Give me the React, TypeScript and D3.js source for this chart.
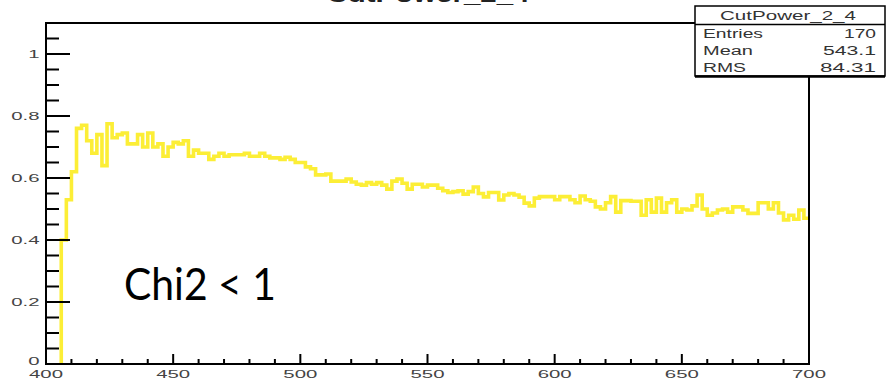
import React from "react";
import * as d3 from "d3";

// ---- data ----
const binStart = 400;
const binWidth = 2;
const binValues: number[] = [
  0, 0, 0, 0.4, 0.53, 0.62, 0.76, 0.77, 0.72, 0.68,
  0.74, 0.64, 0.775, 0.73, 0.74, 0.745, 0.71, 0.71, 0.74, 0.7,
  0.745, 0.7, 0.71, 0.67, 0.7, 0.715, 0.71, 0.72, 0.67, 0.69,
  0.68, 0.68, 0.66, 0.67, 0.68, 0.67, 0.675, 0.675, 0.675, 0.68,
  0.67, 0.67, 0.68, 0.67, 0.665, 0.665, 0.66, 0.667, 0.66, 0.65,
  0.65, 0.636, 0.63, 0.61, 0.61, 0.613, 0.59, 0.59, 0.59, 0.597,
  0.587, 0.58, 0.577, 0.585, 0.58, 0.585, 0.577, 0.564, 0.59, 0.597,
  0.583, 0.564, 0.58, 0.58, 0.571, 0.577, 0.577, 0.567, 0.559, 0.553,
  0.556, 0.559, 0.548, 0.556, 0.571, 0.55, 0.539, 0.553, 0.553, 0.529,
  0.545, 0.55, 0.545, 0.538, 0.519, 0.51, 0.535, 0.54, 0.54, 0.54,
  0.53, 0.54, 0.54, 0.53, 0.52, 0.542, 0.53, 0.525, 0.507, 0.5,
  0.52, 0.54, 0.49, 0.527, 0.527, 0.525, 0.525, 0.48, 0.53, 0.49,
  0.535, 0.49, 0.52, 0.53, 0.49, 0.5, 0.497, 0.51, 0.545, 0.5,
  0.48, 0.487, 0.497, 0.5, 0.49, 0.507, 0.507, 0.497, 0.486, 0.486,
  0.52, 0.52, 0.5, 0.52, 0.487, 0.465, 0.48, 0.467, 0.497, 0.47,
];
const xTickValues = [400, 450, 500, 550, 600, 650, 700];
const xTickLabels = ["400", "450", "500", "550", "600", "650", "700"];
const yTickValues = [0, 0.2, 0.4, 0.6, 0.8, 1];
const yTickLabels = ["0", "0.2", "0.4", "0.6", "0.8", "1"];
const histTitle = "CutPower_2_4";
const statNames = ["Entries", "Mean", "RMS"];
const statValues = ["170", "543.1", "84.31"];
const annotation = "Chi2 < 1";

// ---- layout ----
const W = 886;
const H = 380;
const left = 46;
const right = 809;
const top = 23;
const bottom = 364;

export default function App() {
  const x = d3.scaleLinear().domain([400, 700]).range([left, right]);
  const y = d3.scaleLinear().domain([0, 1.1]).range([bottom, top]);

  const firstIdx = binValues.findIndex((v) => v > 0);
  const pts: [number, number][] = [[binStart + firstIdx * binWidth, 0]];
  for (let i = firstIdx; i < binValues.length; i++) {
    pts.push([binStart + i * binWidth, binValues[i]]);
  }
  const last = binValues.length - 1;
  pts.push([binStart + binValues.length * binWidth, binValues[last]]);
  const line = d3
    .line<[number, number]>()
    .x((d) => x(d[0]))
    .y((d) => y(d[1]))
    .curve(d3.curveStepAfter);

  const yMinor = d3.range(0, 1.1 + 1e-9, 0.05);
  const xMinor = d3.range(400, 700 + 1e-9, 10);
  const font = "'Liberation Sans', Arial, Helvetica, sans-serif";
  const labelScale = 1.85;

  return (
    <svg
      width={W}
      height={H}
      style={{ position: "absolute", left: 0, top: 0, background: "#fff" }}
    >
      <rect x={0} y={0} width={W} height={H} fill="#fff" />
      {/* title (mostly clipped) */}
      <text
        x={428}
        y={2}
        textAnchor="middle"
        fontFamily={font}
        fontWeight="bold"
        fontSize={22}
        fill="#222"
        textLength={203}
        lengthAdjust="spacingAndGlyphs"
      >
        {histTitle}
      </text>

      {/* histogram */}
      <path
        d={line(pts) || ""}
        fill="none"
        stroke="#fcee36"
        strokeWidth={3.6}
        strokeLinejoin="miter"
      />

      {/* frame */}
      <rect
        x={left}
        y={top}
        width={right - left}
        height={bottom - top}
        fill="none"
        stroke="#000"
        strokeWidth={2}
      />

      {/* y ticks */}
      {yMinor.map((v, i) => {
        const major = i % 4 === 0;
        return (
          <line
            key={"ym" + i}
            x1={left}
            x2={left + (major ? 24 : 13)}
            y1={y(v)}
            y2={y(v)}
            stroke="#000"
            strokeWidth={2}
          />
        );
      })}
      {yTickValues.map((v, i) => (
        <text
          key={"yl" + i}
          transform={`translate(39.5,${v === 0 ? y(v) + 1 : y(v) + 4}) scale(${labelScale},1)`}
          textAnchor="end"
          fontFamily={font}
          fontSize={11}
          fill="#444"
        >
          {yTickLabels[i]}
        </text>
      ))}

      {/* x ticks */}
      {xMinor.map((v, i) => {
        const major = i % 5 === 0;
        return (
          <line
            key={"xm" + i}
            x1={x(v)}
            x2={x(v)}
            y1={bottom}
            y2={bottom - (major ? 10 : 5)}
            stroke="#000"
            strokeWidth={2}
          />
        );
      })}
      {xTickValues.map((v, i) => (
        <text
          key={"xl" + i}
          transform={`translate(${x(v)},378) scale(${labelScale},1)`}
          textAnchor="middle"
          fontFamily={font}
          fontSize={11}
          fill="#444"
        >
          {xTickLabels[i]}
        </text>
      ))}

      {/* annotation */}
      <text
        x={124}
        y={300}
        fontFamily="Lato, 'Open Sans', sans-serif"
        fontSize={44}
        fill="#000"
        textLength={152}
        lengthAdjust="spacingAndGlyphs"
      >
        {annotation}
      </text>

      {/* stats box */}
      <rect x={695} y={6} width={190} height={70} fill="#fff" stroke="#000" strokeWidth={1.5} />
      <line x1={695} x2={885} y1={76.5} y2={76.5} stroke="#000" strokeWidth={2.5} />
      <line x1={695} x2={885} y1={24.5} y2={24.5} stroke="#000" strokeWidth={1.5} />
      <text
        x={788}
        y={19.5}
        textAnchor="middle"
        fontFamily={font}
        fontSize={12.5}
        fill="#333"
        textLength={136}
        lengthAdjust="spacingAndGlyphs"
      >
        {histTitle}
      </text>
      {statNames.map((n, i) => (
        <text
          key={"sn" + i}
          x={703}
          y={38.3 + i * 16.6}
          fontFamily={font}
          fontSize={12.5}
          fill="#333"
          textLength={[60, 50, 43][i]}
          lengthAdjust="spacingAndGlyphs"
        >
          {n}
        </text>
      ))}
      {statValues.map((v, i) => (
        <text
          key={"sv" + i}
          x={876}
          y={38.3 + i * 16.6}
          textAnchor="end"
          fontFamily={font}
          fontSize={12.5}
          fill="#333"
          textLength={[32, 53, 56][i]}
          lengthAdjust="spacingAndGlyphs"
        >
          {v}
        </text>
      ))}
    </svg>
  );
}
